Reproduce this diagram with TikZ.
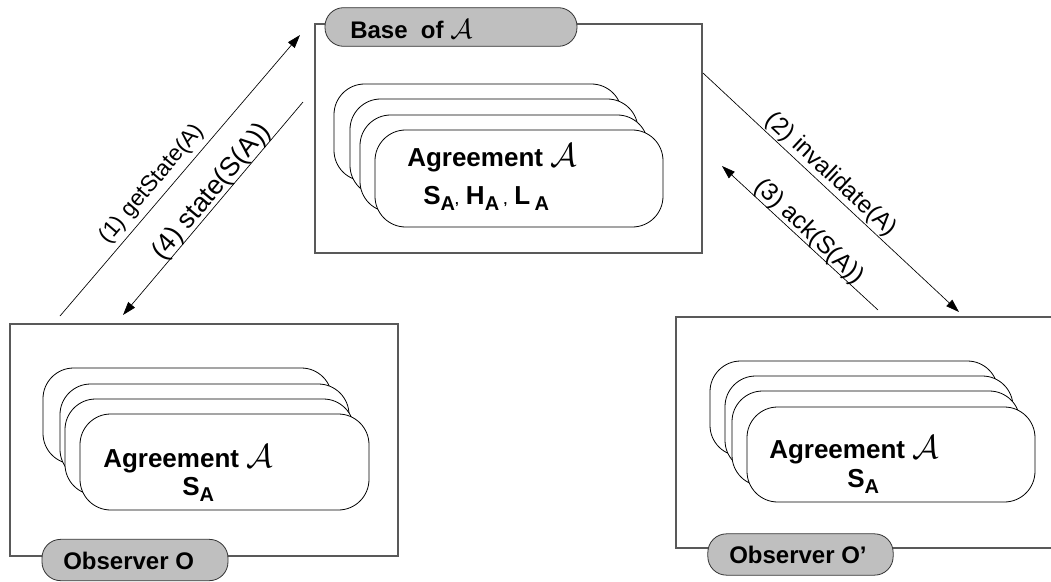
\documentclass[tikz,border=0pt]{standalone}
\usepackage{fontspec}
\setmainfont{Liberation Sans}
\usetikzlibrary{arrows.meta}
\newcommand\subA{\raisebox{-5pt}{\fontsize{15}{15}\selectfont A}}
\newcommand\smallcomma{{\fontsize{10}{10}\selectfont ,}}
\newcommand\calA{\scalebox{1.2}{$\mathcal{A}$}}
\begin{document}
\begin{tikzpicture}[x=0.75pt,y=-0.75pt,
  box/.style={draw=black!65, line width=0.9pt},
  card/.style={draw=black, fill=white, line width=0.6pt, rounded corners=23pt},
  pill/.style={draw=black!80, fill=black!25, line width=0.6pt, rounded corners=14pt, inner sep=0pt},
  big/.style={font=\fontsize{19.5}{22}\selectfont\bfseries, inner sep=0pt, anchor=base west},
  plbl/.style={font=\fontsize{18}{22}\selectfont\bfseries, inner sep=0pt, anchor=base west},
  msg/.style={-{Triangle[length=10pt,width=6.5pt]}, line width=0.5pt},
  mlbl/.style={inner sep=0pt}
]
\useasboundingbox (0,0) rectangle (1051,582);

% boxes
\draw[box] (315,24) rectangle (702,253);
\draw[box] (10,324) rectangle (398,556);
\draw[box] (1060,317) -- (676,317) -- (676,548) -- (1060,548);

% card stacks
\foreach \x/\y in {334/84,350/99,360/115,375/130} {\draw[card] (\x,\y) rectangle ++(288,97);}
\foreach \x/\y in {43/368,60/384,65/399,80/414} {\draw[card] (\x,\y) rectangle ++(289,96);}
\foreach \x/\y in {710/361,725/376,732/391,747/407} {\draw[card] (\x,\y) rectangle ++(288,95);}

% pills
\node[pill, minimum width=189pt, minimum height=29pt] (basepill) at (451,27) {};
\node[pill, minimum width=139.5pt, minimum height=31pt] (obspill) at (135,560) {};
\node[pill, minimum width=139pt, minimum height=31pt] (obs2pill) at (800.5,554.5) {};

\node[plbl] (basetitle) at (350,38) {Base\ \ of \calA};
\node[plbl] (obstitle) at (63,569) {Observer O};
\node[plbl] (obs2title) at (729,563) {Observer O'};

% card texts
\node[big] (agb) at (407,166) {Agreement \calA};
\node[big] (shl) at (423,204) {S\subA\smallcomma\ H\subA\,\smallcomma\ L\,\subA};
\node[big] (ago) at (103,467) {Agreement \calA};
\node[big] (so) at (182,495) {S\subA};
\node[big] (ago2) at (769,458) {Agreement \calA};
\node[big] (so2) at (847,487) {S\subA};

% arrow endpoints
\coordinate (p1s) at (60,316);  \coordinate (p1e) at (300,35);
\coordinate (p4s) at (303,102); \coordinate (p4e) at (123,315);
\coordinate (p2s) at (703,73);  \coordinate (p2e) at (959,312);
\coordinate (p3s) at (878,310); \coordinate (p3e) at (722,166);

\draw[msg] (p1s) -- (p1e);
\draw[msg] (p4s) -- (p4e);
\draw[msg] (p2s) -- (p2e);
\draw[msg] (p3s) -- (p3e);

\node[mlbl, rotate=49.5, font=\fontsize{17}{20}\selectfont] (l1) at (152,184) {(1) getState(A)};
\node[mlbl, rotate=50, font=\fontsize{20}{24}\selectfont] (l4) at (212,192) {(4) state(S(A))};
\node[mlbl, rotate=-43, font=\fontsize{18}{22}\selectfont] (l2) at (831,175) {(2) invalidate(A)};
\node[mlbl, rotate=-43.5, font=\fontsize{18.5}{22}\selectfont] (l3) at (809,232) {(3) ack(S(A))};
\end{tikzpicture}
\end{document}
